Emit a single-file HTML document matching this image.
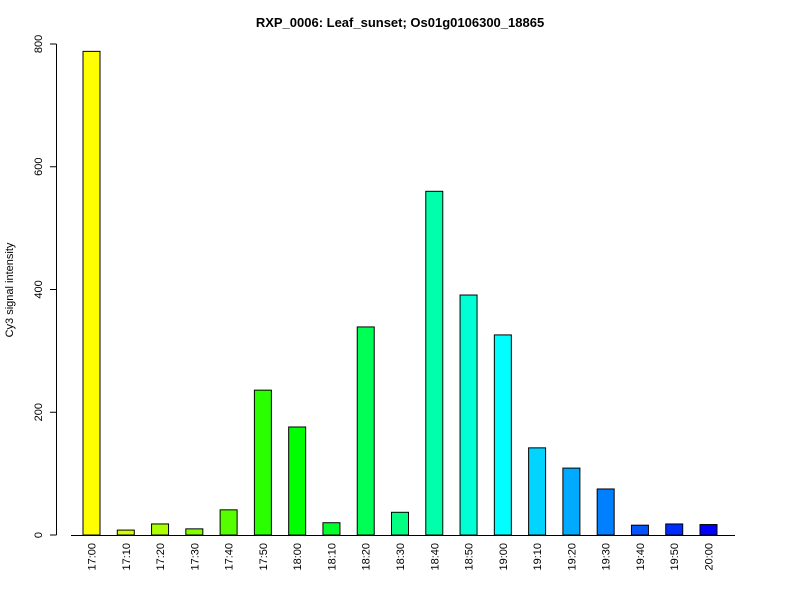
<!DOCTYPE html>
<html><head><meta charset="utf-8"><style>body{margin:0;background:#fff}svg{font-family:"Liberation Sans",Arial,sans-serif}</style></head>
<body>
<svg id="chart" width="800" height="600">
<text x="400" y="27" text-anchor="middle" font-weight="bold" font-size="13">RXP_0006: Leaf_sunset; Os01g0106300_18865</text>
<text transform="translate(13,290) rotate(-90)" text-anchor="middle" font-size="11">Cy3 signal intensity</text>
<g id="bars"></g><g id="axes"></g>
</svg>
<script>
const categories=["17:00","17:10","17:20","17:30","17:40","17:50","18:00","18:10","18:20","18:30","18:40","18:50","19:00","19:10","19:20","19:30","19:40","19:50","20:00"].slice(0,19);
const values=[788,8,18,10,41,236,176,20,339,37,560,391,326,142,109,75,16,18,17];
const yTicks=[0,200,400,600,800];
const NS="http://www.w3.org/2000/svg";
const svg=document.getElementById('chart');
const y0=535,y1=44,vmax=800;
function yS(v){return y0-(v/vmax)*(y0-y1);}
const n=values.length;
const firstC=91.5,lastC=708.5;
function xS(i){return firstC+i*(lastC-firstC)/(n-1);}
const bw=17;
const bars=document.getElementById('bars'),axes=document.getElementById('axes');
function mk(t,a,p){const e=document.createElementNS(NS,t);for(const k in a)e.setAttribute(k,a[k]);p.appendChild(e);return e;}
for(let i=0;i<n;i++){
 const h=60+i*(180/(n-1));
 const r=mk('rect',{x:xS(i)-bw/2,y:yS(values[i]),width:bw,height:y0-yS(values[i]),fill:`hsl(${h},100%,50%)`,stroke:'#000','stroke-width':1},bars);
 
 
 const t=mk('text',{transform:`translate(${xS(i)+4},543) rotate(-90)`,'text-anchor':'end','font-size':11},axes);
 t.textContent=categories[i];
 
 
}
const xa=mk('line',{x1:71,x2:735,y1:y0+0.5,y2:y0+0.5,stroke:'#000'},axes);


const ya=mk('line',{x1:56.5,x2:56.5,y1:yS(0),y2:yS(800),stroke:'#000'},axes);


for(const v of yTicks){
 mk('line',{x1:50,x2:56.5,y1:yS(v),y2:yS(v),stroke:'#000'},axes);
 const t=mk('text',{transform:`translate(42,${yS(v)}) rotate(-90)`,'text-anchor':'middle','font-size':11},axes);
 t.textContent=v;
 
 
}
</script>
</body></html>
